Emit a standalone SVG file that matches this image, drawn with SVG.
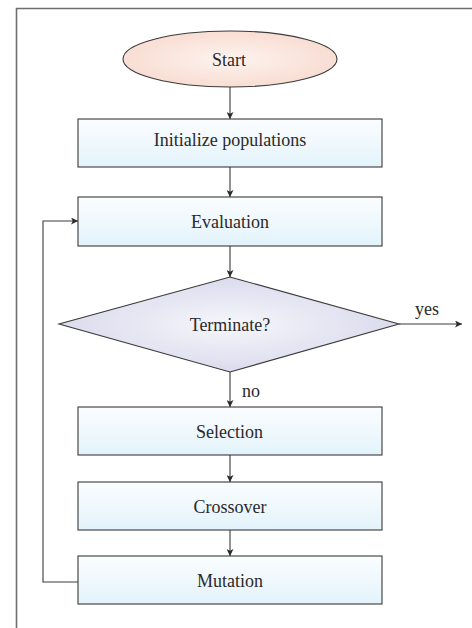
<svg xmlns="http://www.w3.org/2000/svg" width="472" height="628" viewBox="0 0 472 628" font-family="'Liberation Serif', 'Times New Roman', 'DejaVu Serif', serif">
  <style>
    .frame { fill: none; stroke: #6e6e6e; stroke-width: 1.6; }
    .box { fill: url(#boxFill); stroke: #3a3a3a; stroke-width: 1.1; }
    .oval { fill: url(#ovalFill); stroke: #3a3a3a; stroke-width: 1.1; }
    .decision { fill: url(#diamondFill); stroke: #3a3a3a; stroke-width: 1.1; }
    .edge { fill: none; stroke: #3a3a3a; stroke-width: 1.1; marker-end: url(#arrow); }
    text { font-family: "Liberation Serif", "Times New Roman", "DejaVu Serif", serif; font-size: 18px; fill: #2a2a2a; text-anchor: middle; }
    .lbl { text-anchor: start; }
  </style>
  <defs>
    <linearGradient id="boxFill" x1="0" y1="0" x2="0" y2="1">
      <stop offset="0" stop-color="#fbfdfe"/>
      <stop offset="1" stop-color="#e3f3fb"/>
    </linearGradient>
    <radialGradient id="ovalFill" cx="0.5" cy="0.5" r="0.55">
      <stop offset="0" stop-color="#fdf3ef"/>
      <stop offset="1" stop-color="#f8dbd0"/>
    </radialGradient>
    <radialGradient id="diamondFill" cx="0.5" cy="0.5" r="0.55">
      <stop offset="0" stop-color="#f6f6fb"/>
      <stop offset="1" stop-color="#d8d8ec"/>
    </radialGradient>
    <marker id="arrow" viewBox="0 0 10 10" refX="10" refY="5" markerWidth="7" markerHeight="7" markerUnits="userSpaceOnUse" orient="auto">
      <path d="M0,0 L10,5 L0,10 L2.5,5 Z" fill="#2a2a2a"/>
    </marker>
  </defs>

  <!-- outer frame (top and left edges) -->
  <path class="frame" d="M472,8.5 H16.5 V628"/>

  <!-- connectors -->
  <g id="connectors">
    <line class="edge" x1="230" y1="87" x2="230" y2="119"/>
    <line class="edge" x1="230" y1="167" x2="230" y2="197"/>
    <line class="edge" x1="230" y1="246" x2="230" y2="277"/>
    <line class="edge" x1="399" y1="324" x2="462" y2="324"/>
    <line class="edge" x1="230" y1="372" x2="230" y2="407"/>
    <line class="edge" x1="230" y1="455" x2="230" y2="482"/>
    <line class="edge" x1="230" y1="530" x2="230" y2="556"/>
    <path class="edge" d="M78,582 H43 V221 H78"/>
    <text class="lbl" x="415" y="315">yes</text>
    <text class="lbl" x="242" y="397">no</text>
  </g>

  <g id="start">
    <ellipse class="oval" cx="230" cy="59" rx="107" ry="28"/>
    <text x="229" y="66">Start</text>
  </g>

  <g id="init">
    <rect class="box" x="78" y="119" width="304" height="48"/>
    <text x="230" y="146">Initialize populations</text>
  </g>

  <g id="evaluation">
    <rect class="box" x="78" y="197" width="304" height="49"/>
    <text x="230" y="228">Evaluation</text>
  </g>

  <g id="terminate">
    <polygon class="decision" points="230,277 399,324 230,372 59,324"/>
    <text x="230" y="331">Terminate?</text>
  </g>

  <g id="selection">
    <rect class="box" x="78" y="407" width="304" height="48"/>
    <text x="229.5" y="438">Selection</text>
  </g>

  <g id="crossover">
    <rect class="box" x="78" y="482" width="304" height="48"/>
    <text x="230" y="513">Crossover</text>
  </g>

  <g id="mutation">
    <rect class="box" x="78" y="556" width="304" height="48"/>
    <text x="230" y="587">Mutation</text>
  </g>
</svg>
